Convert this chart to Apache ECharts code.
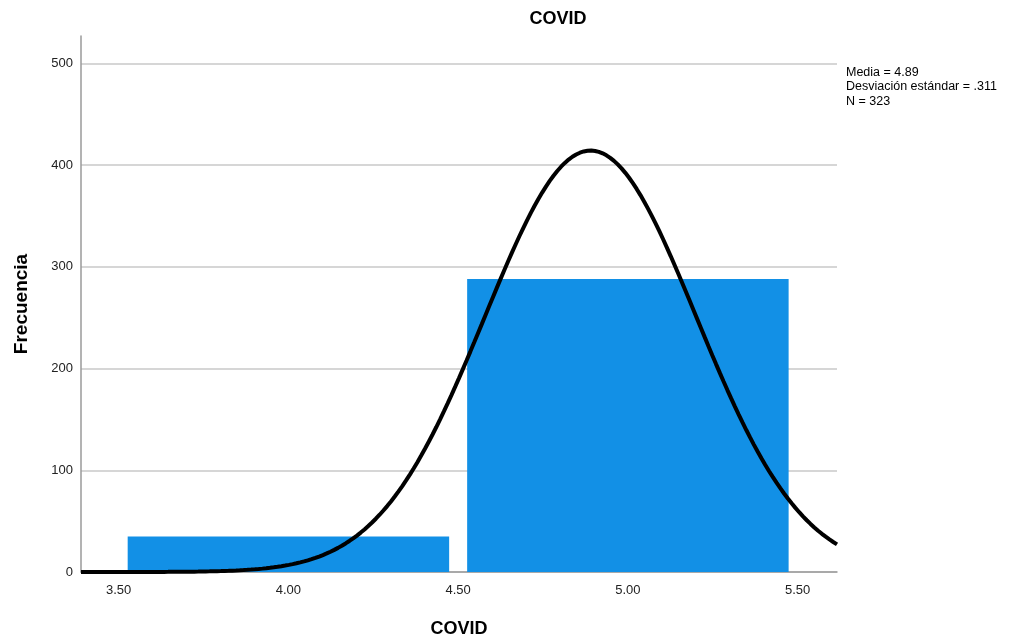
<!DOCTYPE html>
<html>
<head>
<meta charset="utf-8">
<script src="https://cdn.jsdelivr.net/npm/echarts@6/dist/echarts.min.js"></script>
<style>
  html, body { margin: 0; padding: 0; background: #fff; }
  #chart { width: 1022px; height: 640px; }
</style>
</head>
<body>
<div id="chart"></div>
<script>
// Histogram bins (lower and upper edges) and their counts
const binStarts = [3.5, 4.5];
const binEnds = [4.5, 5.5];
const counts = [35, 288];

// Summary statistics shown beside the plot
const mean = 4.89;
const stdDev = 0.311;
const n = 323;

// Tick labels
const xTicks = [3.5, 4.0, 4.5, 5.0, 5.5];
const yTicks = [0, 100, 200, 300, 400, 500];

const xMin = 3.389, xMax = 5.616, yMax = 527;
const binWidth = binEnds[0] - binStarts[0];

// Fitted normal curve scaled to frequency: N * width * pdf(x)
const curve = [];
const steps = 200;
for (let i = 0; i <= steps; i++) {
  const x = xMin + (xMax - xMin) * i / steps;
  const z = (x - mean) / stdDev;
  const y = n * binWidth * Math.exp(-0.5 * z * z) / (stdDev * Math.sqrt(2 * Math.PI));
  curve.push([x, y]);
}

const barData = counts.map((c, i) => [binStarts[i], binEnds[i], c]);

const chart = echarts.init(document.getElementById('chart'), null, { renderer: 'canvas' });
const font = '"Liberation Sans", Arial, sans-serif';

chart.setOption({
  animation: false,
  title: {
    text: 'COVID',
    left: 553,
    top: 5,
    textAlign: 'center',
    textStyle: { fontFamily: font, fontSize: 18, fontWeight: 'bold', color: '#000' }
  },
  graphic: [{
    type: 'text',
    left: 846,
    top: 65,
    style: {
      text: 'Media = ' + mean.toFixed(2) + '\nDesviación estándar = ' + String(stdDev).replace(/^0/, '') + '\nN = ' + n,
      font: '12.5px ' + font,
      lineHeight: 14.5,
      fill: '#000'
    }
  }],
  grid: { left: 81, right: 185, top: 36, bottom: 68, outerBoundsMode: 'none', containLabel: false },
  xAxis: {
    type: 'value',
    min: xMin,
    max: xMax,
    name: 'COVID',
    nameLocation: 'middle',
    nameGap: 48,
    nameTextStyle: { fontFamily: font, fontSize: 18, fontWeight: 'bold', color: '#000' },
    axisLine: { show: true, lineStyle: { color: '#9a9a9a', width: 1.5 } },
    axisTick: { show: false, customValues: xTicks },
    splitLine: { show: false },
    axisLabel: {
      customValues: xTicks,
      formatter: v => Number(v).toFixed(2),
      fontFamily: font, fontSize: 13, color: '#222', margin: 12
    }
  },
  yAxis: {
    type: 'value',
    min: 0,
    max: yMax,
    name: 'Frecuencia',
    nameLocation: 'middle',
    nameGap: 50,
    nameTextStyle: { fontFamily: font, fontSize: 19, fontWeight: 'bold', color: '#000' },
    axisLine: { show: true, lineStyle: { color: '#9a9a9a', width: 1.5 } },
    axisTick: { show: false, customValues: yTicks },
    splitLine: { show: true, lineStyle: { color: '#c8c8c8', width: 1.5 } },
    axisLabel: {
      customValues: yTicks,
      fontFamily: font, fontSize: 13, color: '#222', margin: 8
    }
  },
  series: [
    {
      type: 'custom',
      z: 2,
      data: barData,
      encode: { x: [0, 1], y: 2 },
      renderItem: function (params, api) {
        const inset = 9;
        const p0 = api.coord([api.value(0), 0]);
        const p1 = api.coord([api.value(1), api.value(2)]);
        return {
          type: 'rect',
          shape: {
            x: p0[0] + inset,
            y: p1[1],
            width: p1[0] - p0[0] - 2 * inset,
            height: p0[1] - p1[1]
          },
          style: { fill: '#1290E6' }
        };
      }
    },
    {
      type: 'line',
      z: 3,
      data: curve,
      showSymbol: false,
      smooth: false,
      lineStyle: { color: '#000', width: 4 }
    }
  ]
});
</script>
</body>
</html>
